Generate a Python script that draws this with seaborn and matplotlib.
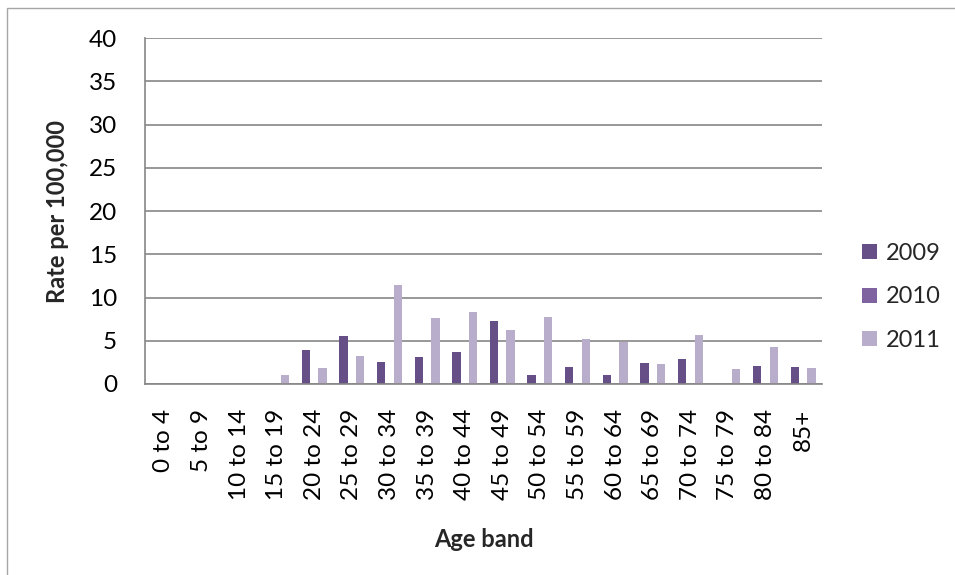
import pandas as pd
import matplotlib.pyplot as plt
import seaborn as sns
from matplotlib.patches import Rectangle, Patch

# Chart data
AGE_BANDS = ['0 to 4', '5 to 9', '10 to 14', '15 to 19', '20 to 24', '25 to 29',
             '30 to 34', '35 to 39', '40 to 44', '45 to 49', '50 to 54', '55 to 59',
             '60 to 64', '65 to 69', '70 to 74', '75 to 79', '80 to 84', '85+']
YEARS = ['2009', '2010', '2011']
RATE_2009 = [0, 0, 0, 0, 3.9, 5.6, 2.5, 3.1, 3.7, 7.3, 1.0, 2.0, 1.0, 2.4, 2.9, 0, 2.1, 2.0]
RATE_2010 = [0] * 18
RATE_2011 = [0, 0, 0, 1.0, 1.9, 3.2, 11.4, 7.6, 8.3, 6.2, 7.7, 5.2, 4.8, 2.3, 5.7, 1.7, 4.3, 1.9]
Y_TICKS = [0, 5, 10, 15, 20, 25, 30, 35, 40]

COLORS = ['#664f86', '#7f63a1', '#b8aecb']
GRID = '#868686'


def build_frame():
    rows = []
    for year, vals in zip(YEARS, [RATE_2009, RATE_2010, RATE_2011]):
        for band, v in zip(AGE_BANDS, vals):
            rows.append({'band': band, 'year': year, 'rate': v})
    return pd.DataFrame(rows)


def main():
    sns.set_theme(style="white")
    plt.rcParams['font.family'] = ['Lato', 'DejaVu Sans']
    fs = 17.5

    df = build_frame()
    fig = plt.figure(figsize=(9.55, 5.75), dpi=100)
    ax = fig.add_axes([145 / 955, 1 - 384 / 575, 677 / 955, 346 / 575])

    sns.barplot(data=df, x='band', y='rate', hue='year', order=AGE_BANDS,
                hue_order=YEARS, palette=COLORS, width=0.665, ax=ax,
                saturation=1, legend=False, edgecolor='none')

    ax.set_xlim(-0.5, len(AGE_BANDS) - 0.5)
    ax.set_ylim(0, 40)
    ax.set_yticks(Y_TICKS)
    ax.set_yticklabels([str(t) for t in Y_TICKS], fontsize=fs)
    ax.set_xticks(range(len(AGE_BANDS)))
    ax.set_xticklabels(AGE_BANDS, rotation=90, fontsize=fs, va='top', ha='center')
    ax.set_xticks([i - 0.5 for i in range(len(AGE_BANDS) + 1)], minor=True)

    ax.tick_params(axis='x', which='major', length=0, pad=18)
    ax.tick_params(axis='x', which='minor', length=7, width=1.2, color=GRID, direction='out')
    ax.tick_params(axis='y', which='major', length=8, width=1.2, color=GRID, direction='out', pad=12)
    ax.tick_params(which='major', axis='both', labelcolor='black')

    ax.yaxis.grid(True, color=GRID, linewidth=1.2)
    ax.xaxis.grid(False)
    ax.set_axisbelow(True)
    for side in ['top', 'right']:
        ax.spines[side].set_visible(False)
    for side in ['left', 'bottom']:
        ax.spines[side].set_color(GRID)
        ax.spines[side].set_linewidth(1.2)

    ax.set_ylabel('Rate per 100,000', fontsize=17, fontweight='bold')
    ax.set_xlabel('Age band', fontsize=17, fontweight='bold')
    ax.yaxis.set_label_coords(-0.112, 0.5)
    ax.xaxis.set_label_coords(0.5, -0.415)

    handles = [Patch(facecolor=c, edgecolor='none') for c in COLORS]
    fig.legend(handles, YEARS, loc='center left', bbox_to_anchor=(0.903, 0.4835),
               frameon=False, fontsize=17, handlelength=0.6, handleheight=0.6,
               handletextpad=0.4, labelspacing=0.95, borderpad=0, borderaxespad=0)

    # outer chart border (only top and left edges fall inside the image)
    fig.patches.append(Rectangle((7 / 955, -0.1), 1.5, 1 - 8 / 575 + 0.1,
                                 transform=fig.transFigure, fill=False,
                                 edgecolor='#a6a6a6', linewidth=1))

    fig.savefig('out.png', dpi=100)
    plt.close(fig)


if __name__ == "__main__":
    main()
